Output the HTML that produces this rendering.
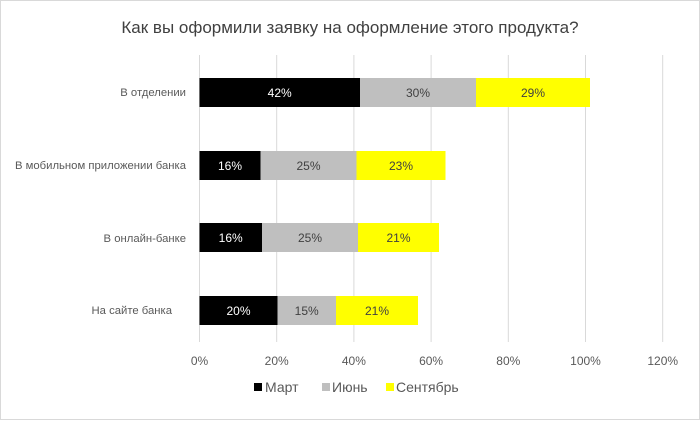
<!DOCTYPE html>
<html><head><meta charset="utf-8"><style>
body{margin:0;background:#fff;}
svg text{font-family:"Liberation Sans","DejaVu Sans",sans-serif;}
</style></head><body>
<svg width="700" height="420" xmlns="http://www.w3.org/2000/svg">
<rect x="0.5" y="0.5" width="699" height="419" fill="#fff" stroke="#d9d9d9"/>
<text x="350" y="33" font-size="17" text-anchor="middle" fill="#404040">Как вы оформили заявку на оформление этого продукта?</text>
<g stroke="#d9d9d9" stroke-width="1">
<line x1="199.5" y1="55" x2="199.5" y2="342"/>
<line x1="276.7" y1="55" x2="276.7" y2="342"/>
<line x1="353.9" y1="55" x2="353.9" y2="342"/>
<line x1="431.1" y1="55" x2="431.1" y2="342"/>
<line x1="508.3" y1="55" x2="508.3" y2="342"/>
<line x1="585.5" y1="55" x2="585.5" y2="342"/>
<line x1="662.7" y1="55" x2="662.7" y2="342"/>
</g>
<g font-size="12" fill="#595959" text-anchor="middle">
<text x="199.5" y="365">0%</text><text x="276.7" y="365">20%</text><text x="353.9" y="365">40%</text><text x="431.1" y="365">60%</text><text x="508.3" y="365">80%</text><text x="585.5" y="365">100%</text><text x="662.7" y="365">120%</text>
</g>
<g font-size="11.3" fill="#595959" text-anchor="end">
<text x="186" y="96">В отделении</text>
<text x="186" y="169">В мобильном приложении банка</text>
<text x="186" y="242">В онлайн-банке</text>
<text x="172" y="314">На сайте банка</text>
</g>
<g>
<rect x="199.5" y="78" width="160.5" height="29" fill="#000"/><rect x="360" y="78" width="116" height="29" fill="#bfbfbf"/><rect x="476" y="78" width="114" height="29" fill="#ffff00"/>
<rect x="199.5" y="151" width="61" height="29" fill="#000"/><rect x="260.5" y="151" width="96" height="29" fill="#bfbfbf"/><rect x="356.5" y="151" width="89" height="29" fill="#ffff00"/>
<rect x="199.5" y="223" width="62.5" height="29" fill="#000"/><rect x="262" y="223" width="96" height="29" fill="#bfbfbf"/><rect x="358" y="223" width="81" height="29" fill="#ffff00"/>
<rect x="199.5" y="296" width="78" height="29" fill="#000"/><rect x="277.5" y="296" width="58.5" height="29" fill="#bfbfbf"/><rect x="336" y="296" width="82" height="29" fill="#ffff00"/>
</g>
<g font-size="12" text-anchor="middle">
<text x="279.7" y="97" fill="#fff">42%</text><text x="418" y="97" fill="#404040">30%</text><text x="533" y="97" fill="#404040">29%</text>
<text x="230" y="170" fill="#fff">16%</text><text x="308.5" y="170" fill="#404040">25%</text><text x="401" y="170" fill="#404040">23%</text>
<text x="230.7" y="242" fill="#fff">16%</text><text x="310" y="242" fill="#404040">25%</text><text x="398.5" y="242" fill="#404040">21%</text>
<text x="238.5" y="315" fill="#fff">20%</text><text x="306.7" y="315" fill="#404040">15%</text><text x="377" y="315" fill="#404040">21%</text>
</g>
<g font-size="14" fill="#595959">
<rect x="254" y="383" width="8" height="8" fill="#000"/><text x="265" y="392">Март</text>
<rect x="322" y="383" width="8" height="8" fill="#bfbfbf"/><text x="332" y="392">Июнь</text>
<rect x="386" y="383" width="8" height="8" fill="#ffff00"/><text x="388" y="392" dx="8">Сентябрь</text>
</g>
</svg>
</body></html>
